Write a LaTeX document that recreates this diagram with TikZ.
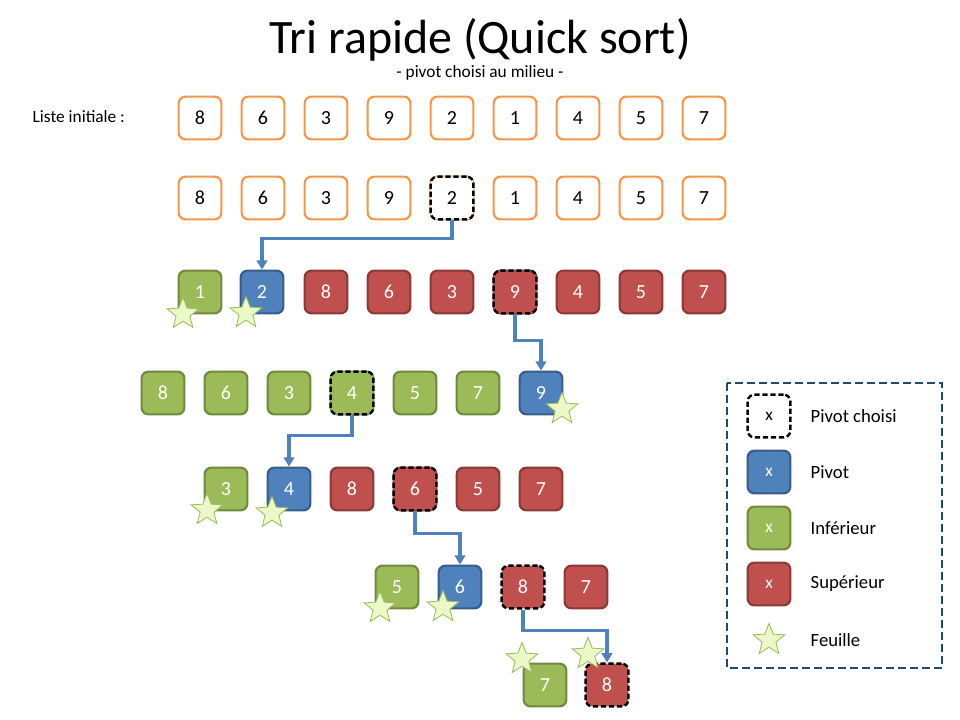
\documentclass[tikz,border=0pt]{standalone}
\usepackage{fontspec}
\setmainfont{Carlito}
\usetikzlibrary{arrows.meta, shapes.geometric, positioning}
\definecolor{orangeline}{RGB}{247,150,70}
\definecolor{greenfill}{RGB}{155,187,89}
\definecolor{greenline}{RGB}{113,137,63}
\definecolor{bluefill}{RGB}{79,129,189}
\definecolor{blueline}{RGB}{56,93,138}
\definecolor{redfill}{RGB}{192,80,77}
\definecolor{redline}{RGB}{140,56,54}
\definecolor{starfill}{RGB}{235,248,200}
\definecolor{starline}{RGB}{155,187,89}
\definecolor{legendline}{RGB}{31,73,125}
\tikzset{
  cell/.style={rounded corners=5pt, minimum size=32pt, inner sep=0pt, line width=1.6pt, font=\fontsize{15}{15}\selectfont},
  orangebox/.style={cell, draw=orangeline, fill=white},
  greenbox/.style={cell, draw=greenline, fill=greenfill, text=white},
  bluebox/.style={cell, draw=blueline, fill=bluefill, text=white},
  redbox/.style={cell, draw=redline, fill=redfill, text=white},
  pivotbox/.style={draw=black, dashed, line width=1.8pt, dash pattern=on 4pt off 2pt},
  leafstar/.style={star, star points=5, star point ratio=2.3, minimum size=25pt, inner sep=0pt, fill=starfill, draw=starline, line width=0.6pt},
  splitarrow/.style={-{Triangle[length=7pt, width=8pt]}, bluefill, line width=2.6pt},
}
\begin{document}
\begin{tikzpicture}[x=0.75pt, y=-0.75pt]
    \useasboundingbox (0,0) rectangle (960,720);
    % Title
    \node (title) at (480,40) {\fontsize{36}{36}\selectfont Tri rapide (Quick sort)};
    \node (subtitle) at (480,73) {\fontsize{13}{13}\selectfont - pivot choisi au milieu -};
    \node[anchor=west] (initlabel) at (28,117) {\fontsize{13}{13}\selectfont Liste initiale :};
    % Initial list
    \foreach \v [count=\i] in {8,6,3,9,2,1,4,5,7} {
        \node[orangebox] (a\i) at (137+63*\i,118) {\v};
    }
    % Pivot choice
    \foreach \v [count=\i] in {8,6,3,9,2,1,4,5,7} {
        \node[orangebox] (b\i) at (137+63*\i,198) {\v};
    }
    \node[orangebox, pivotbox] at (b5) {2};
    % Row 3
    \node[greenbox] (c1) at (200,292) {1};
    \node[bluebox] (c2) at (262,292) {2};
    \foreach \v/\x [count=\i from 3] in {8/326,6/389,3/452,9/515,4/578,5/641,7/704} {
        \node[redbox] (c\i) at (\x,292) {\v};
    }
    \node[redbox, pivotbox] at (c6) {9};
    % Row 4
    \foreach \v [count=\i] in {8,6,3,4,5,7} {
        \node[greenbox] (d\i) at (100+63*\i,393) {\v};
    }
    \node[greenbox, pivotbox] at (d4) {4};
    \node[bluebox] (d7) at (541,393) {9};
    % Row 5
    \node[greenbox] (e1) at (226,489) {3};
    \node[bluebox] (e2) at (289,489) {4};
    \foreach \v [count=\i from 3] in {8,6,5,7} {
        \node[redbox] (e\i) at (163+63*\i,489) {\v};
    }
    \node[redbox, pivotbox] at (e4) {6};
    % Row 6
    \node[greenbox] (f1) at (397,587) {5};
    \node[bluebox] (f2) at (460,587) {6};
    \node[redbox, pivotbox] (f3) at (523,587) {8};
    \node[redbox] (f4) at (586,587) {7};
    % Row 7
    \node[greenbox] (g1) at (545,685) {7};
    \node[redbox, pivotbox] (g2) at (607,685) {8};
    % Arrows
    \draw[splitarrow] (b5.south) |- ++(0,18) -| (c2.north);
    \draw[splitarrow] (c6.south) |- ++(0,26) -| (d7.north);
    \draw[splitarrow] (d4.south) |- ++(0,20) -| (e2.north);
    \draw[splitarrow] (e4.south) |- ++(0,22) -| (f2.north);
    \draw[splitarrow] (f3.south) |- ++(0,21) -| (g2.north);
    % Leaves
    \foreach \p/\n in {{(183,314)}/s1, {(246,313)}/s2, {(562,409)}/s3, {(207,510)}/s4,
                      {(272,513)}/s5, {(380,608)}/s6, {(443,607)}/s7, {(522,659)}/s8, {(588,654)}/s9} {
        \node[leafstar] (\n) at \p {};
    }
    % Legend
    \draw[legendline, dashed, line width=1.4pt, dash pattern=on 6pt off 3pt] (727,383) rectangle (942,668);
    \node[orangebox, pivotbox, font=\fontsize{13}{13}\selectfont] (k1) at (769,416) {x};
    \node[bluebox, font=\fontsize{13}{13}\selectfont] (k2) at (769,472) {x};
    \node[greenbox, font=\fontsize{13}{13}\selectfont] (k3) at (769,528) {x};
    \node[redbox, font=\fontsize{13}{13}\selectfont] (k4) at (769,584) {x};
    \node[leafstar] (k5) at (769,640) {};
    \foreach \t [count=\i] in {Pivot choisi, Pivot, Inférieur, Supérieur, Feuille} {
        \node[anchor=west, font=\fontsize{14}{14}\selectfont] (kt\i) at ([xshift=12pt]k\i.center -| 790,0) {\t};
    }
\end{tikzpicture}
\end{document}
